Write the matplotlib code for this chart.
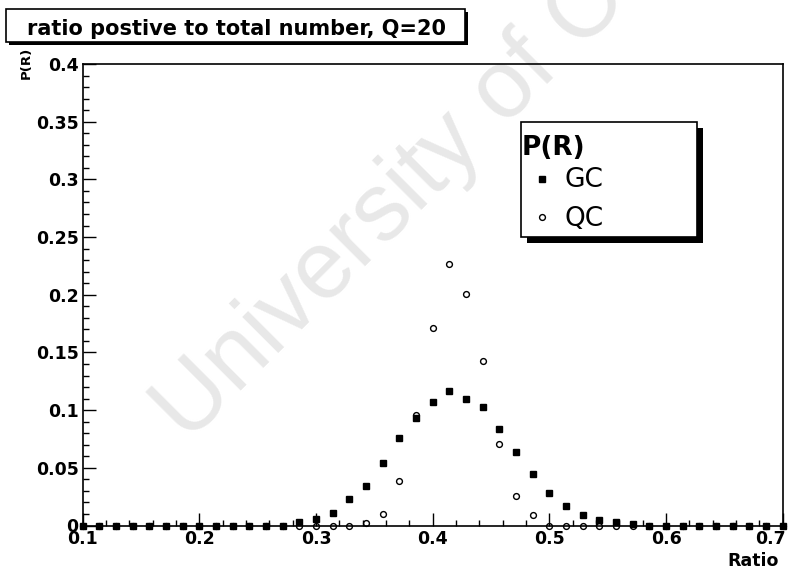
import matplotlib
matplotlib.use("Agg")
import matplotlib.pyplot as plt
from matplotlib.patches import Rectangle
from matplotlib.lines import Line2D
from matplotlib.ticker import MultipleLocator, FuncFormatter

# Ratio bin centres and P(R) for the two samples
ratio = [0.1000, 0.1143, 0.1286, 0.1429, 0.1571, 0.1714, 0.1857, 0.2000, 0.2143,
         0.2286, 0.2429, 0.2571, 0.2714, 0.2857, 0.3000, 0.3143, 0.3286, 0.3429,
         0.3571, 0.3714, 0.3857, 0.4000, 0.4143, 0.4286, 0.4429, 0.4571, 0.4714,
         0.4857, 0.5000, 0.5143, 0.5286, 0.5429, 0.5571, 0.5714, 0.5857, 0.6000,
         0.6143, 0.6286, 0.6429, 0.6571, 0.6714, 0.6857, 0.7000]
p_gc = [0, 0, 0, 0, 0, 0, 0, 0, 0, 0, 0, 0,
        0.0, 0.003, 0.006, 0.011, 0.023, 0.034, 0.054, 0.076, 0.093, 0.107,
        0.117, 0.110, 0.103, 0.084, 0.064, 0.045, 0.028, 0.017, 0.009, 0.005,
        0.003, 0.001,
        0, 0, 0, 0, 0, 0, 0, 0, 0]
p_qc = [0, 0, 0, 0, 0, 0, 0, 0, 0, 0, 0, 0, 0, 0, 0, 0, 0,
        0.002, 0.010, 0.039, 0.096, 0.171, 0.227, 0.201, 0.143, 0.071, 0.026,
        0.009,
        0, 0, 0, 0, 0, 0, 0, 0, 0, 0, 0, 0, 0, 0, 0]

title = "ratio postive to total number, Q=20"
x_min, x_max = 0.1, 0.7

W, H = 796, 571


def fx(px):
    return px / W


def fy(py):
    return 1 - py / H


plt.rcParams['font.family'] = 'DejaVu Sans'
plt.rcParams['font.weight'] = 'bold'

fig = plt.figure(figsize=(W / 100, H / 100), dpi=100)
fig.patch.set_facecolor('white')

# faint watermark behind everything
fig.text(fx(188), fy(444), "University of Cape Town", rotation=45,
         rotation_mode='anchor', ha='left', va='baseline', fontsize=69,
         family='Liberation Sans', fontweight='normal', color='#e8e8e8',
         zorder=-5)

ax = fig.add_axes([fx(82.7), fy(525.5), 700 / W, 461.5 / H])
ax.set_facecolor('none')

ax.plot(ratio, p_qc, linestyle='none', marker='o', markersize=4.2,
        mfc='none', mec='black', mew=1.0, clip_on=False, zorder=3)
ax.plot(ratio, p_gc, linestyle='none', marker='s', markersize=4.2,
        color='black', clip_on=False, zorder=4)

ax.set_xlim(x_min, x_max)
ax.set_ylim(0, 0.4)
ax.xaxis.set_major_locator(MultipleLocator(0.1))
ax.xaxis.set_minor_locator(MultipleLocator(0.02))
ax.yaxis.set_major_locator(MultipleLocator(0.05))
ax.yaxis.set_minor_locator(MultipleLocator(0.01))
ax.xaxis.set_major_formatter(FuncFormatter(
    lambda v, pos: '' if abs(v - x_max) < 1e-6 else '%g' % round(v, 4)))
ax.yaxis.set_major_formatter(FuncFormatter(lambda v, pos: '%g' % round(v, 4)))
ax.tick_params(which='both', direction='in', top=False, right=False,
               width=1.0, colors='black')
ax.tick_params(which='major', length=9.5, pad=3, labelsize=12.5)
ax.tick_params(which='minor', length=4.5)
for sp in ax.spines.values():
    sp.set_linewidth(1.2)

# last x label pulled inside the frame
ax.annotate('%g' % x_max, xy=(x_max, 0), xycoords=('data', 'axes fraction'),
            xytext=(2, -3), textcoords='offset points', ha='right', va='top',
            fontsize=12.5)

# axis titles
fig.text(fx(26), fy(47), "P(R)", rotation=90, ha='center', va='top',
         fontsize=9.5)
fig.text(fx(779), fy(566), "Ratio", ha='right', va='baseline',
         fontsize=12.5)

# title box with shadow
fig.add_artist(Rectangle((fx(9), fy(45)), (465 - 6) / W, (42 - 9) / H,
                         transform=fig.transFigure, fc='black', ec='none',
                         zorder=5))
fig.add_artist(Rectangle((fx(6), fy(42)), (465 - 6) / W, (42 - 9) / H,
                         transform=fig.transFigure, fc='white', ec='black',
                         lw=1.2, zorder=6))
fig.text(fx(27), fy(35), title, ha='left', va='baseline', fontsize=15,
         zorder=7)

# legend box with shadow
fig.add_artist(Rectangle((fx(527), fy(243)), (697 - 521) / W, (237 - 122) / H,
                         transform=fig.transFigure, fc='black', ec='none',
                         zorder=5))
fig.add_artist(Rectangle((fx(521), fy(237)), (697 - 521) / W, (237 - 122) / H,
                         transform=fig.transFigure, fc='white', ec='black',
                         lw=1.2, zorder=6))
fig.text(fx(522), fy(155), "P(R)", ha='left', va='baseline', fontsize=19,
         zorder=7)
fig.add_artist(Line2D([fx(541.7)], [fy(179)], transform=fig.transFigure,
                      linestyle='none', marker='s', markersize=4.2,
                      color='black', zorder=7))
fig.add_artist(Line2D([fx(541.7)], [fy(217.3)], transform=fig.transFigure,
                      linestyle='none', marker='o', markersize=4.2,
                      mfc='none', mec='black', mew=1.0, zorder=7))
fig.text(fx(565), fy(187), "GC", ha='left', va='baseline', fontsize=19,
         fontweight='normal', zorder=7)
fig.text(fx(565), fy(226), "QC", ha='left', va='baseline', fontsize=19,
         fontweight='normal', zorder=7)

fig.savefig("out.png", dpi=100)
